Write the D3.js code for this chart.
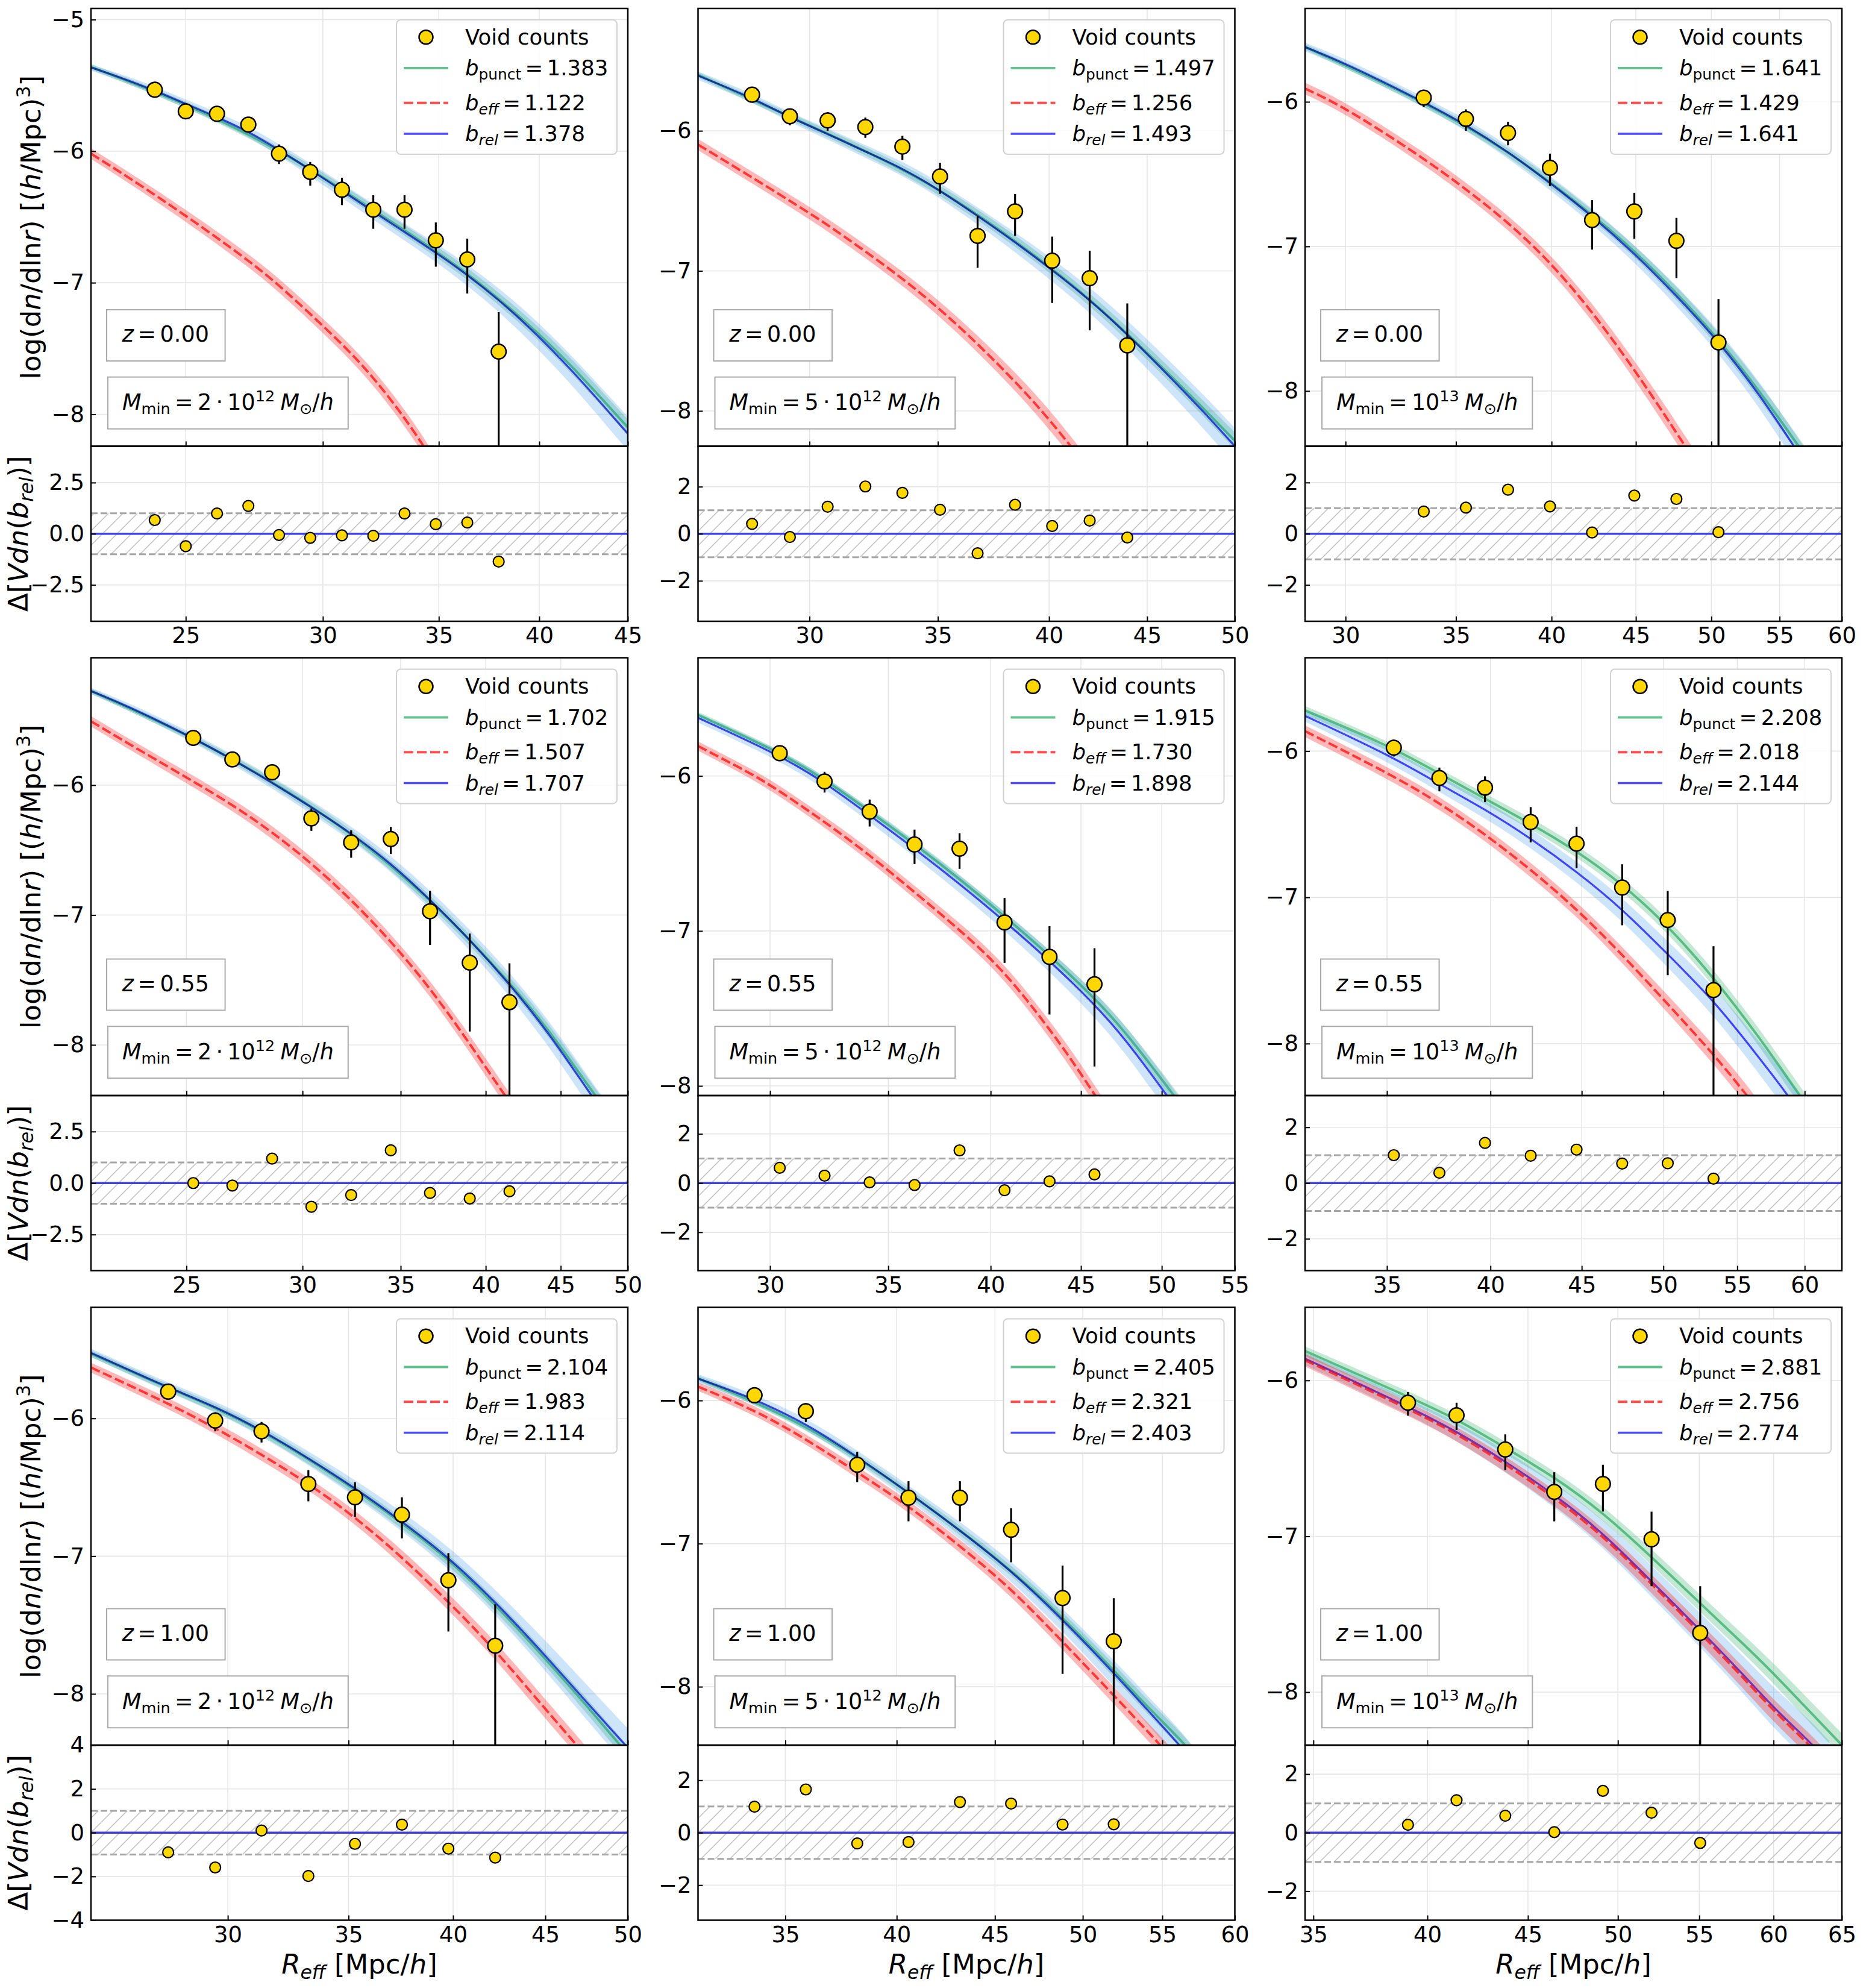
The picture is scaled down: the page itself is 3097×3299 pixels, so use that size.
<!DOCTYPE html>
<html><head><meta charset="utf-8">
<script src="https://cdn.jsdelivr.net/npm/d3@7"></script>
<style>body{margin:0;background:#fff} svg{display:block} text{font-family:"DejaVu Sans",sans-serif}</style>
</head><body><svg id="c" width="3097" height="3299"></svg>
<script>
// ---------------- DATA ----------------
const BPUNCT = ["1.383","1.497","1.641","1.702","1.915","2.208","2.104","2.405","2.881"];
const BEFF   = ["1.122","1.256","1.429","1.507","1.730","2.018","1.983","2.321","2.756"];
const BREL   = ["1.378","1.493","1.641","1.707","1.898","2.144","2.114","2.403","2.774"];
const ZLAB   = ["0.00","0.55","1.00"];
const MPRE   = ["2","5",""];
const MEXP   = ["12","12","13"];

// Panel 1: z=0.00, Mmin=2e12
const XD1=[22.04,45], YD1=[-8.243,-4.915], RD1=[-4.28,4.28], XT1=[25,30,35,40,45], YT1=[-8,-7,-6,-5], RT1=[-2.5,0,2.5];
const R1=[23.99,25.00,26.06,27.17,28.30,29.50,30.77,32.08,33.44,34.86,36.35,37.90];
const V1=[-5.533,-5.697,-5.716,-5.798,-6.019,-6.158,-6.293,-6.445,-6.445,-6.678,-6.823,-7.524];
const EU1=[0.03,0.035,0.04,0.045,0.07,0.076,0.091,0.11,0.11,0.136,0.158,0.30];
const ED1=[0.035,0.04,0.045,0.06,0.079,0.104,0.117,0.145,0.145,0.20,0.259,2.0];
const RES1=[0.67,-0.61,0.99,1.36,-0.06,-0.20,-0.08,-0.10,0.99,0.47,0.55,-1.36];
const REL1=[[22.04,-5.363,0.025],[23.12,-5.457,0.028],[24.0,-5.54,0.03],[25,-5.64,0.033],[26.06,-5.74,0.036],[27.17,-5.85,0.04],[28.3,-5.99,0.045],[29.5,-6.14,0.05],[30.77,-6.30,0.055],[32.08,-6.46,0.06],[33.44,-6.615,0.065],[34.86,-6.77,0.07],[36.35,-6.94,0.08],[37.9,-7.13,0.09],[39.42,-7.33,0.1],[41.7,-7.65,0.11],[45,-8.148,0.13]];
const PUNCT1=[[22.04,-5.36,0.02],[25,-5.635,0.025],[28.3,-5.985,0.03],[30.77,-6.29,0.035],[33.44,-6.60,0.04],[36.35,-6.92,0.045],[39.42,-7.31,0.05],[41.7,-7.62,0.055],[45,-8.10,0.06]];
const EFF1=[[22.04,-6.019,0.04],[23.12,-6.191,0.042],[25,-6.488,0.045],[27.17,-6.829,0.05],[28.3,-7.016,0.052],[30.77,-7.46,0.056],[32.04,-7.71,0.06],[33.27,-7.985,0.062],[34.2,-8.214,0.065],[34.9,-8.40,0.065]];

// Panel 2: z=0.00, Mmin=5e12
const XD2=[26.24,50], YD2=[-8.252,-5.126], RD2=[-3.72,3.72], XT2=[30,35,40,45,50], YT2=[-8,-7,-6], RT2=[-2,0,2];
const R2=[28.0,29.30,30.66,32.08,33.54,35.09,36.71,38.40,40.15,42.0,43.94];
const V2=[-5.742,-5.896,-5.926,-5.973,-6.113,-6.326,-6.750,-6.575,-6.927,-7.052,-7.532];
const EU2=[0.035,0.053,0.06,0.068,0.077,0.098,0.145,0.124,0.172,0.196,0.30];
const ED2=[0.04,0.065,0.074,0.077,0.095,0.124,0.228,0.175,0.302,0.373,2.0];
const RES2=[0.42,-0.14,1.15,2.01,1.74,1.02,-0.83,1.23,0.33,0.56,-0.16];
const REL2=[[26.24,-5.606,0.03],[28.0,-5.763,0.032],[29.30,-5.905,0.035],[30.66,-6.021,0.04],[32.08,-6.148,0.045],[33.54,-6.267,0.05],[35.0,-6.415,0.055],[36.71,-6.607,0.06],[38.40,-6.794,0.07],[40.15,-6.993,0.08],[42.0,-7.206,0.09],[43.94,-7.452,0.1],[45.84,-7.704,0.11],[48.01,-7.985,0.12],[50,-8.252,0.13]];
const PUNCT2=[[26.24,-5.60,0.02],[29.30,-5.90,0.025],[32.08,-6.14,0.03],[35.0,-6.405,0.035],[38.40,-6.78,0.04],[42.0,-7.19,0.045],[45.84,-7.69,0.05],[48.01,-7.965,0.055],[50,-8.213,0.06]];
const EFF2=[[26.24,-6.098,0.04],[27.97,-6.328,0.042],[30,-6.587,0.045],[30.82,-6.692,0.045],[33.18,-7.002,0.05],[35.0,-7.258,0.055],[36.73,-7.523,0.06],[38.43,-7.794,0.065],[39.64,-7.996,0.07],[41.0,-8.239,0.07],[41.8,-8.39,0.07]];

// Panel 3: z=0.00, Mmin=1e13
const XD3=[28.35,60], YD3=[-8.382,-5.354], RD3=[-3.42,3.42], XT3=[30,35,40,45,50,55,60], YT3=[-8,-7,-6], RT3=[-2,0,2];
const R3=[33.46,35.49,37.64,39.91,42.33,44.90,47.62,50.50];
const V3=[-5.971,-6.118,-6.215,-6.456,-6.818,-6.758,-6.961,-7.664];
const EU3=[0.05,0.066,0.077,0.098,0.138,0.129,0.158,0.30];
const ED3=[0.066,0.083,0.086,0.126,0.204,0.189,0.258,2.0];
const RES3=[0.87,1.02,1.72,1.07,0.05,1.49,1.36,0.06];
const REL3=[[28.35,-5.621,0.03],[30,-5.733,0.032],[33.46,-6.0,0.035],[35.49,-6.158,0.04],[37.64,-6.344,0.045],[39.91,-6.56,0.05],[42.33,-6.789,0.055],[44.90,-7.047,0.06],[47.62,-7.34,0.07],[50.50,-7.656,0.08],[53.48,-8.023,0.09],[56.11,-8.382,0.1],[57.0,-8.5,0.1]];
const PUNCT3=[[28.35,-5.62,0.02],[33.46,-5.995,0.025],[37.64,-6.335,0.03],[42.33,-6.775,0.035],[44.90,-7.03,0.04],[47.62,-7.32,0.045],[50.50,-7.64,0.05],[53.48,-8.0,0.055],[56.5,-8.382,0.06],[57.4,-8.5,0.06]];
const EFF3=[[28.35,-5.908,0.04],[30,-6.04,0.04],[33.46,-6.39,0.045],[35.49,-6.603,0.045],[37.64,-6.832,0.05],[39.91,-7.105,0.055],[42.33,-7.449,0.06],[44.90,-7.851,0.065],[47.04,-8.195,0.07],[48.2,-8.382,0.07],[49.0,-8.5,0.07]];

// Panel 4: z=0.55, Mmin=2e12
const XD4=[21.52,50], YD4=[-8.39,-5.019], RD4=[-4.25,4.25], XT4=[25,30,35,40,45,50], YT4=[-8,-7,-6], RT4=[-2.5,0,2.5];
const R4=[25.27,26.87,28.60,30.42,32.38,34.46,36.65,39.01,41.52];
const V4=[-5.636,-5.802,-5.901,-6.256,-6.441,-6.415,-6.971,-7.367,-7.671];
const EU4=[0.03,0.035,0.04,0.077,0.093,0.093,0.157,0.224,0.30];
const ED4=[0.035,0.04,0.05,0.096,0.118,0.115,0.259,0.53,2.0];
const RES4=[0.0,-0.12,1.19,-1.15,-0.58,1.59,-0.48,-0.75,-0.40];
const REL4=[[21.52,-5.275,0.025],[22.77,-5.387,0.028],[25.27,-5.636,0.035],[26.87,-5.802,0.04],[28.60,-5.98,0.045],[30.42,-6.17,0.05],[32.38,-6.37,0.055],[34.46,-6.60,0.06],[36.65,-6.88,0.07],[39.01,-7.19,0.08],[41.52,-7.53,0.09],[44.19,-7.911,0.1],[47.22,-8.39,0.11],[48.0,-8.5,0.11]];
const PUNCT4=[[21.52,-5.275,0.02],[25.27,-5.63,0.025],[28.60,-5.97,0.03],[32.38,-6.36,0.035],[36.65,-6.87,0.04],[41.52,-7.51,0.045],[44.19,-7.89,0.05],[47.5,-8.39,0.055],[48.3,-8.5,0.055]];
const EFF4=[[21.52,-5.508,0.04],[22.77,-5.674,0.04],[25,-5.94,0.045],[26.87,-6.15,0.045],[28.60,-6.36,0.05],[30.42,-6.60,0.05],[32.38,-6.88,0.055],[34.46,-7.20,0.055],[36.65,-7.56,0.06],[39.01,-7.99,0.065],[41.22,-8.39,0.07],[41.9,-8.5,0.07]];

// Panel 5: z=0.55, Mmin=5e12
const XD5=[27.31,55], YD5=[-8.062,-5.237], RD5=[-3.56,3.56], XT5=[30,35,40,45,50,55], YT5=[-8,-7,-6], RT5=[-2,0,2];
const R5=[30.38,32.21,34.16,36.22,38.41,40.73,43.19,45.80];
const V5=[-5.853,-6.035,-6.230,-6.442,-6.469,-6.945,-7.167,-7.344];
const EU5=[0.035,0.062,0.078,0.096,0.10,0.158,0.198,0.233];
const ED5=[0.04,0.072,0.096,0.126,0.13,0.261,0.372,0.53];
const RES5=[0.62,0.30,0.03,-0.08,1.33,-0.29,0.07,0.35];
const REL5=[[27.31,-5.625,0.03],[30.38,-5.866,0.035],[32.21,-6.040,0.04],[34.16,-6.254,0.045],[36.22,-6.469,0.05],[38.41,-6.696,0.055],[40.73,-6.937,0.06],[43.19,-7.191,0.07],[45.80,-7.473,0.08],[47.60,-7.687,0.09],[50.35,-8.062,0.1],[51.5,-8.22,0.1]];
const PUNCT5=[[27.31,-5.606,0.02],[30.38,-5.847,0.02],[32.21,-6.021,0.02],[34.16,-6.228,0.025],[36.22,-6.439,0.025],[38.41,-6.664,0.03],[40.73,-6.905,0.03],[43.19,-7.157,0.035],[45.80,-7.432,0.04],[47.60,-7.639,0.045],[50.81,-8.062,0.05],[52.0,-8.22,0.05]];
const EFF5=[[27.31,-5.807,0.03],[28.84,-5.946,0.03],[30,-6.054,0.035],[32.21,-6.295,0.035],[34.16,-6.509,0.04],[36.22,-6.75,0.04],[38.41,-6.991,0.045],[40.73,-7.258,0.05],[43.19,-7.633,0.055],[44.38,-7.82,0.06],[45.85,-8.062,0.06],[46.8,-8.22,0.06]];

// Panel 6: z=0.55, Mmin=1e13
const XD6=[31.49,62.95], YD6=[-8.355,-5.362], RD6=[-3.14,3.14], XT6=[35,40,45,50,55,60], YT6=[-8,-7,-6], RT6=[-2,0,2];
const R6=[35.31,37.45,39.72,42.13,44.70,47.41,50.28,53.34];
const V6=[-5.977,-6.184,-6.25,-6.485,-6.633,-6.933,-7.155,-7.634];
const EU6=[0.054,0.071,0.077,0.102,0.116,0.159,0.199,0.30];
const ED6=[0.06,0.091,0.099,0.139,0.167,0.258,0.377,2.0];
const RES6=[1.0,0.37,1.44,0.98,1.20,0.70,0.71,0.16];
const REL6=[[31.49,-5.759,0.04],[35.31,-6.043,0.05],[37.45,-6.227,0.055],[39.72,-6.397,0.06],[42.13,-6.596,0.065],[44.70,-6.823,0.07],[47.41,-7.078,0.08],[50.28,-7.39,0.09],[53.34,-7.702,0.1],[56.60,-8.099,0.11],[58.74,-8.355,0.12],[59.8,-8.5,0.12]];
const PUNCT6=[[31.49,-5.722,0.03],[35.31,-5.977,0.03],[37.45,-6.156,0.035],[39.72,-6.326,0.035],[42.13,-6.496,0.04],[44.70,-6.681,0.04],[47.41,-6.908,0.045],[50.28,-7.191,0.05],[53.34,-7.546,0.055],[56.60,-7.957,0.06],[59.62,-8.355,0.065],[60.8,-8.5,0.065]];
const EFF6=[[31.49,-5.864,0.04],[35.31,-6.17,0.04],[37.45,-6.355,0.045],[39.72,-6.567,0.045],[42.13,-6.809,0.05],[44.70,-7.078,0.05],[47.41,-7.39,0.055],[50.28,-7.73,0.06],[53.34,-8.071,0.065],[55.72,-8.355,0.07],[56.8,-8.5,0.07]];

// Panel 7: z=1.00, Mmin=2e12
const XD7=[25.19,50], YD7=[-8.372,-5.194], RD7=[-4,4], XT7=[30,35,40,45,50], YT7=[-8,-7,-6], RT7=[-4,-2,0,2,4];
const R7=[27.80,29.52,31.32,33.25,35.29,37.47,39.76,42.21];
const V7=[-5.806,-6.016,-6.094,-6.476,-6.573,-6.699,-7.175,-7.65];
const EU7=[0.035,0.06,0.068,0.10,0.11,0.126,0.197,0.30];
const ED7=[0.04,0.078,0.081,0.126,0.142,0.172,0.372,2.0];
const RES7=[-0.90,-1.59,0.10,-1.98,-0.51,0.37,-0.73,-1.14];
const REL7=[[25.19,-5.524,0.03],[27.80,-5.777,0.035],[29.52,-5.913,0.04],[31.32,-6.084,0.045],[33.25,-6.288,0.05],[35.29,-6.505,0.06],[37.47,-6.748,0.07],[39.76,-7.006,0.08],[42.21,-7.33,0.09],[44.98,-7.718,0.11],[47.73,-8.1,0.13],[49.84,-8.372,0.14],[50.5,-8.45,0.14]];
const PUNCT7=[[25.19,-5.53,0.025],[27.8,-5.78,0.025],[29.52,-5.92,0.03],[31.32,-6.09,0.03],[33.25,-6.295,0.035],[35.29,-6.515,0.035],[37.47,-6.76,0.04],[39.76,-7.02,0.04],[42.21,-7.35,0.045],[44.98,-7.74,0.05],[47.73,-8.125,0.055],[49.5,-8.372,0.06],[50.5,-8.5,0.06]];
const EFF7=[[25.19,-5.631,0.035],[27.80,-5.89,0.04],[29.52,-6.068,0.04],[31.32,-6.262,0.045],[33.25,-6.472,0.045],[35.29,-6.715,0.05],[37.47,-7.006,0.055],[39.76,-7.33,0.06],[42.21,-7.68,0.065],[44.98,-8.107,0.07],[46.84,-8.372,0.07],[47.6,-8.48,0.07]];

// Panel 8: z=1.00, Mmin=5e12
const XD8=[31.52,60], YD8=[-8.408,-5.349], RD8=[-3.34,3.34], XT8=[35,40,45,50,55,60], YT8=[-8,-7,-6], RT8=[-2,0,2];
const R8=[33.73,35.87,38.15,40.57,43.15,45.88,48.80,51.89];
const V8=[-5.963,-6.075,-6.449,-6.679,-6.679,-6.903,-7.38,-7.682];
const EU8=[0.035,0.056,0.09,0.115,0.115,0.15,0.227,0.30];
const ED8=[0.04,0.075,0.121,0.165,0.165,0.227,0.53,2.0];
const RES8=[0.99,1.65,-0.41,-0.36,1.17,1.11,0.31,0.32];
const REL8=[[31.52,-5.847,0.03],[33.73,-5.988,0.035],[35.87,-6.159,0.04],[38.15,-6.393,0.045],[40.57,-6.642,0.05],[43.15,-6.907,0.06],[45.88,-7.187,0.07],[48.80,-7.53,0.08],[51.89,-7.903,0.09],[54.01,-8.16,0.1],[56.17,-8.408,0.11],[57.0,-8.52,0.11]];
const PUNCT8=[[31.52,-5.845,0.02],[35.87,-6.155,0.025],[40.57,-6.635,0.03],[45.88,-7.175,0.035],[48.80,-7.515,0.04],[51.89,-7.885,0.045],[54.01,-8.14,0.05],[56.6,-8.408,0.055],[57.4,-8.52,0.055]];
const EFF8=[[31.52,-5.903,0.03],[33.73,-6.065,0.035],[35.87,-6.268,0.035],[38.15,-6.502,0.04],[40.57,-6.735,0.04],[43.15,-7.016,0.045],[45.88,-7.312,0.05],[48.80,-7.685,0.055],[51.89,-8.059,0.06],[54.89,-8.408,0.065],[55.8,-8.52,0.065]];

// Panel 9: z=1.00, Mmin=1e13
const XD9=[34.66,65], YD9=[-8.34,-5.531], RD9=[-2.99,2.99], XT9=[35,40,45,50,55,60,65], YT9=[-8,-7,-6], RT9=[-2,0,2];
const R9=[39.10,41.39,43.82,46.41,49.13,52.01,55.06];
const V9=[-6.143,-6.223,-6.443,-6.715,-6.664,-7.019,-7.62];
const EU9=[0.069,0.08,0.097,0.126,0.123,0.177,0.30];
const ED9=[0.083,0.095,0.132,0.189,0.177,0.301,2.0];
const RES9=[0.27,1.11,0.58,0.02,1.43,0.68,-0.35];
const REL9=[[34.66,-5.86,0.04],[39.10,-6.166,0.05],[41.39,-6.326,0.06],[43.82,-6.518,0.07],[46.41,-6.732,0.08],[49.13,-6.976,0.09],[52.01,-7.29,0.1],[55.06,-7.60,0.11],[58.24,-7.92,0.12],[60,-8.10,0.13],[62.86,-8.34,0.14],[64,-8.45,0.14]];
const PUNCT9=[[34.66,-5.811,0.03],[39.10,-6.103,0.035],[41.39,-6.246,0.035],[43.82,-6.432,0.04],[46.41,-6.618,0.04],[49.13,-6.847,0.045],[52.01,-7.133,0.05],[55.06,-7.43,0.055],[58.24,-7.72,0.06],[60,-7.88,0.065],[62.01,-8.07,0.07],[65,-8.34,0.075]];
const EFF9=[[34.66,-5.87,0.04],[39.10,-6.18,0.045],[41.39,-6.34,0.045],[43.82,-6.535,0.05],[46.41,-6.75,0.05],[49.13,-6.995,0.055],[52.01,-7.305,0.06],[55.06,-7.62,0.065],[58.24,-7.94,0.07],[60,-8.12,0.07],[62.6,-8.34,0.075],[63.8,-8.45,0.075]];

// ---------------- assemble ----------------
const PANELS = [
 {R:R1,V:V1,EU:EU1,ED:ED1,RES:RES1,rel:REL1,punct:PUNCT1,eff:EFF1,xd:XD1,yd:YD1,rd:RD1,xt:XT1,yt:YT1,rt:RT1},
 {R:R2,V:V2,EU:EU2,ED:ED2,RES:RES2,rel:REL2,punct:PUNCT2,eff:EFF2,xd:XD2,yd:YD2,rd:RD2,xt:XT2,yt:YT2,rt:RT2},
 {R:R3,V:V3,EU:EU3,ED:ED3,RES:RES3,rel:REL3,punct:PUNCT3,eff:EFF3,xd:XD3,yd:YD3,rd:RD3,xt:XT3,yt:YT3,rt:RT3},
 {R:R4,V:V4,EU:EU4,ED:ED4,RES:RES4,rel:REL4,punct:PUNCT4,eff:EFF4,xd:XD4,yd:YD4,rd:RD4,xt:XT4,yt:YT4,rt:RT4},
 {R:R5,V:V5,EU:EU5,ED:ED5,RES:RES5,rel:REL5,punct:PUNCT5,eff:EFF5,xd:XD5,yd:YD5,rd:RD5,xt:XT5,yt:YT5,rt:RT5},
 {R:R6,V:V6,EU:EU6,ED:ED6,RES:RES6,rel:REL6,punct:PUNCT6,eff:EFF6,xd:XD6,yd:YD6,rd:RD6,xt:XT6,yt:YT6,rt:RT6},
 {R:R7,V:V7,EU:EU7,ED:ED7,RES:RES7,rel:REL7,punct:PUNCT7,eff:EFF7,xd:XD7,yd:YD7,rd:RD7,xt:XT7,yt:YT7,rt:RT7},
 {R:R8,V:V8,EU:EU8,ED:ED8,RES:RES8,rel:REL8,punct:PUNCT8,eff:EFF8,xd:XD8,yd:YD8,rd:RD8,xt:XT8,yt:YT8,rt:RT8},
 {R:R9,V:V9,EU:EU9,ED:ED9,RES:RES9,rel:REL9,punct:PUNCT9,eff:EFF9,xd:XD9,yd:YD9,rd:RD9,xt:XT9,yt:YT9,rt:RT9}
];

// ---------------- layout & style ----------------
const COLX=[151,1158.5,2166], PW=891;
const ROWY=[14,1091.5,2169.5], MH=726.5, RH=290.5;
const GRID="#e6e6e6", FONT="DejaVu Sans";
const C_GREEN="#3cb371", C_RED="#ff0000", C_BLUE="#4d4dff";

const svg=d3.select("#c");
svg.append("rect").attr("width",3097).attr("height",3299).attr("fill","#fff");
const defs=svg.append("defs");
const pat=defs.append("pattern").attr("id","hatch").attr("patternUnits","userSpaceOnUse").attr("width",24).attr("height",24);
pat.append("path").attr("d","M-6,6 L6,-6 M0,24 L24,0 M18,30 L30,18").attr("stroke","#c6c6c6").attr("stroke-width",1.6).attr("fill","none");

function minus(s){return s.replace(/-/g,"\u2212");}
// parts: [text, flags ('i' italic, '_' sub, '^' sup), dx in em before]
function rich(t, parts, fs){
  t.attr("xml:space","preserve").style("white-space","pre");
  let cur=0;
  parts.forEach(p=>{
    const f=p[1]||"";
    const s=t.append("tspan").text(p[0]);
    const sub=f.includes("_"), sup=f.includes("^");
    const tgt= sub?0.2*fs:(sup?-0.38*fs:0);
    if(tgt!==cur) s.attr("dy",tgt-cur);
    cur=tgt;
    if(p[2]) s.attr("dx",p[2]*fs);
    if(sub||sup) s.attr("font-size",0.7*fs);
    if(f.includes("i")) s.attr("font-style","italic");
  });
  return t;
}

PANELS.forEach((P,k)=>{
  const r=Math.floor(k/3), c=k%3;
  const x0=COLX[c], y0=ROWY[r], yR=y0+MH;
  const g=svg.append("g");
  const x=d3.scaleLog().domain(P.xd).range([x0,x0+PW]);
  const y=d3.scaleLinear().domain(P.yd).range([y0+MH,y0]);
  const yr=d3.scaleLinear().domain(P.rd).range([yR+RH,yR]);
  defs.append("clipPath").attr("id","cm"+k).append("rect").attr("x",x0).attr("y",y0).attr("width",PW).attr("height",MH);
  defs.append("clipPath").attr("id","cr"+k).append("rect").attr("x",x0).attr("y",yR).attr("width",PW).attr("height",RH);

  // ---- main panel ----
  const gm=g.append("g").attr("clip-path",`url(#cm${k})`);
  P.xt.forEach(t=>gm.append("line").attr("x1",x(t)).attr("x2",x(t)).attr("y1",y0).attr("y2",y0+MH).attr("stroke",GRID).attr("stroke-width",1.6));
  P.yt.forEach(t=>gm.append("line").attr("x1",x0).attr("x2",x0+PW).attr("y1",y(t)).attr("y2",y(t)).attr("stroke",GRID).attr("stroke-width",1.6));

  const area=d3.area().x(d=>x(d[0])).y0(d=>y(d[1]-d[2])).y1(d=>y(d[1]+d[2])).curve(d3.curveBasis);
  const line=d3.line().x(d=>x(d[0])).y(d=>y(d[1])).curve(d3.curveBasis);

  gm.append("path").attr("d",area(P.punct)).attr("fill",C_GREEN).attr("fill-opacity",0.3);
  gm.append("path").attr("d",line(P.punct)).attr("fill","none").attr("stroke",C_GREEN).attr("stroke-opacity",0.8).attr("stroke-width",4);
  gm.append("path").attr("d",area(P.rel)).attr("fill","#1e88e5").attr("fill-opacity",0.22);
  gm.append("path").attr("d",line(P.rel)).attr("fill","none").attr("stroke",C_BLUE).attr("stroke-width",3.2).style("mix-blend-mode","multiply");
  gm.append("path").attr("d",area(P.eff)).attr("fill",C_RED).attr("fill-opacity",0.28);
  gm.append("path").attr("d",line(P.eff)).attr("fill","none").attr("stroke",C_RED).attr("stroke-opacity",0.7).attr("stroke-width",4).attr("stroke-dasharray","16,6");

  P.R.forEach((R,i)=>{
    gm.append("line").attr("x1",x(R)).attr("x2",x(R)).attr("y1",y(P.V[i]+P.EU[i])).attr("y2",y(P.V[i]-P.ED[i])).attr("stroke","#000").attr("stroke-width",3.2);
  });
  P.R.forEach((R,i)=>{
    gm.append("circle").attr("cx",x(R)).attr("cy",y(P.V[i])).attr("r",12.3).attr("fill","#ffd700").attr("stroke","#000").attr("stroke-width",2.5);
  });

  // ---- residual panel ----
  const gr=g.append("g").attr("clip-path",`url(#cr${k})`);
  P.xt.forEach(t=>gr.append("line").attr("x1",x(t)).attr("x2",x(t)).attr("y1",yR).attr("y2",yR+RH).attr("stroke",GRID).attr("stroke-width",1.6));
  P.rt.forEach(t=>gr.append("line").attr("x1",x0).attr("x2",x0+PW).attr("y1",yr(t)).attr("y2",yr(t)).attr("stroke",GRID).attr("stroke-width",1.6));
  gr.append("rect").attr("x",x0).attr("y",yr(1)).attr("width",PW).attr("height",yr(-1)-yr(1)).attr("fill","url(#hatch)");
  [1,-1].forEach(t=>gr.append("line").attr("x1",x0).attr("x2",x0+PW).attr("y1",yr(t)).attr("y2",yr(t)).attr("stroke","#a6a6a6").attr("stroke-width",3).attr("stroke-dasharray","11,5"));
  gr.append("line").attr("x1",x0).attr("x2",x0+PW).attr("y1",yr(0)).attr("y2",yr(0)).attr("stroke","#4040e0").attr("stroke-width",3.5);
  P.R.forEach((R,i)=>{
    gr.append("circle").attr("cx",x(R)).attr("cy",yr(P.RES[i])).attr("r",9).attr("fill","#ffd700").attr("stroke","#000").attr("stroke-width",2.2);
  });

  // ---- axes ----
  const dec = P.rt.some(v=>v%1!==0);
  const styleAxis=sel=>{
    sel.select(".domain").remove();
    sel.selectAll(".tick line").attr("stroke","#000").attr("stroke-width",2);
    sel.selectAll("text").attr("font-size",37).attr("font-family",FONT).attr("fill","#000");
  };
  g.append("g").attr("transform",`translate(${x0},0)`)
    .call(d3.axisLeft(y).tickValues(P.yt).tickSize(-8).tickPadding(11).tickFormat(d=>minus(String(d)))).call(styleAxis);
  g.append("g").attr("transform",`translate(0,${y0+MH})`)
    .call(d3.axisBottom(x).tickValues(P.xt).tickSize(-8).tickFormat(()=> "")).call(styleAxis);
  g.append("g").attr("transform",`translate(${x0},0)`)
    .call(d3.axisLeft(yr).tickValues(P.rt).tickSize(-8).tickPadding(11).tickFormat(d=>minus(dec?d.toFixed(1):String(d)))).call(styleAxis);
  g.append("g").attr("transform",`translate(0,${yR+RH})`)
    .call(d3.axisBottom(x).tickValues(P.xt).tickSize(-8).tickPadding(10).tickFormat(d=>String(d))).call(styleAxis);

  g.append("rect").attr("x",x0).attr("y",y0).attr("width",PW).attr("height",MH).attr("fill","none").attr("stroke","#000").attr("stroke-width",2.5);
  g.append("rect").attr("x",x0).attr("y",yR).attr("width",PW).attr("height",RH).attr("fill","none").attr("stroke","#000").attr("stroke-width",2.5);

  // ---- legend ----
  const Rt=x0+PW;
  g.append("rect").attr("x",Rt-384).attr("y",y0+19).attr("width",366).attr("height",223).attr("rx",7)
    .attr("fill","#fff").attr("fill-opacity",0.85).attr("stroke","#d2d2d2").attr("stroke-width",2);
  const LF=35.5;
  const rows=[47.7,99,156.7,208];
  g.append("circle").attr("cx",Rt-335).attr("cy",y0+rows[0]).attr("r",11.5).attr("fill","#ffd700").attr("stroke","#000").attr("stroke-width",2.5);
  g.append("line").attr("x1",Rt-372).attr("x2",Rt-298).attr("y1",y0+rows[1]).attr("y2",y0+rows[1]).attr("stroke",C_GREEN).attr("stroke-opacity",0.8).attr("stroke-width",4);
  g.append("line").attr("x1",Rt-372).attr("x2",Rt-298).attr("y1",y0+rows[2]).attr("y2",y0+rows[2]).attr("stroke",C_RED).attr("stroke-opacity",0.7).attr("stroke-width",4).attr("stroke-dasharray","16,6");
  g.append("line").attr("x1",Rt-372).attr("x2",Rt-298).attr("y1",y0+rows[3]).attr("y2",y0+rows[3]).attr("stroke",C_BLUE).attr("stroke-width",3.4);
  const lt=(i,parts)=>rich(g.append("text").attr("x",Rt-270).attr("y",y0+rows[i]+12).attr("font-size",LF).attr("font-family",FONT),parts,LF);
  lt(0,[["Void counts"]]);
  lt(1,[["b","i"],["punct","_"],["=","",0.18],[BPUNCT[k],"",0.18]]);
  lt(2,[["b","i"],["eff","i_"],["=","",0.18],[BEFF[k],"",0.18]]);
  lt(3,[["b","i"],["rel","i_"],["=","",0.18],[BREL[k],"",0.18]]);

  // ---- text boxes ----
  const TF=36.5;
  const zb=g.append("rect").attr("x",x0+26).attr("y",y0+500).attr("height",85).attr("fill","#fff").attr("stroke","#aaaaaa").attr("stroke-width",2);
  const zt=rich(g.append("text").attr("x",x0+51.7).attr("y",y0+553.3).attr("font-size",TF).attr("font-family",FONT),[["z","i"],["=","",0.18],[ZLAB[r],"",0.18]],TF);
  zb.attr("width",zt.node().getBBox().width+51.4);
  const mparts=[["M","i"],["min","_"],["=","",0.2]];
  if(MPRE[c]) mparts.push([MPRE[c],"",0.2],["\u00b7","",0.2],["10","",0.2]); else mparts.push(["10","",0.2]);
  mparts.push([MEXP[c],"^"],["M","i",0.25],["\u2299","_"],["/"],["h","i"]);
  const mb=g.append("rect").attr("x",x0+28).attr("y",y0+611.7).attr("height",86).attr("fill","#fff").attr("stroke","#aaaaaa").attr("stroke-width",2);
  const mt=rich(g.append("text").attr("x",x0+52).attr("y",y0+666).attr("font-size",TF).attr("font-family",FONT),mparts,TF);
  mb.attr("width",mt.node().getBBox().width+48);

  // ---- axis labels ----
  const AF=45;
  if(c===0){
    rich(g.append("text").attr("transform",`translate(67,${y0+MH/2}) rotate(-90)`).attr("text-anchor","middle").attr("font-size",AF).attr("font-family",FONT),
      [["log(d"],["n","i"],["/dln"],["r","i"],[") [("],["h","i"],["/Mpc)"],["3","^"],["]"]],AF);
    rich(g.append("text").attr("transform",`translate(46,${yR+RH/2}) rotate(-90)`).attr("text-anchor","middle").attr("font-size",AF).attr("font-family",FONT),
      [["\u0394["],["Vdn","i"],["("],["b","i"],["rel","i_"],[")]"]],AF);
  }
  if(r===2){
    rich(g.append("text").attr("x",x0+PW/2).attr("y",yR+RH+88.6).attr("text-anchor","middle").attr("font-size",AF).attr("font-family",FONT),
      [["R","i"],["eff","i_"],[" [Mpc/"],["h","i"],["]"]],AF);
  }
});
</script></body></html>
